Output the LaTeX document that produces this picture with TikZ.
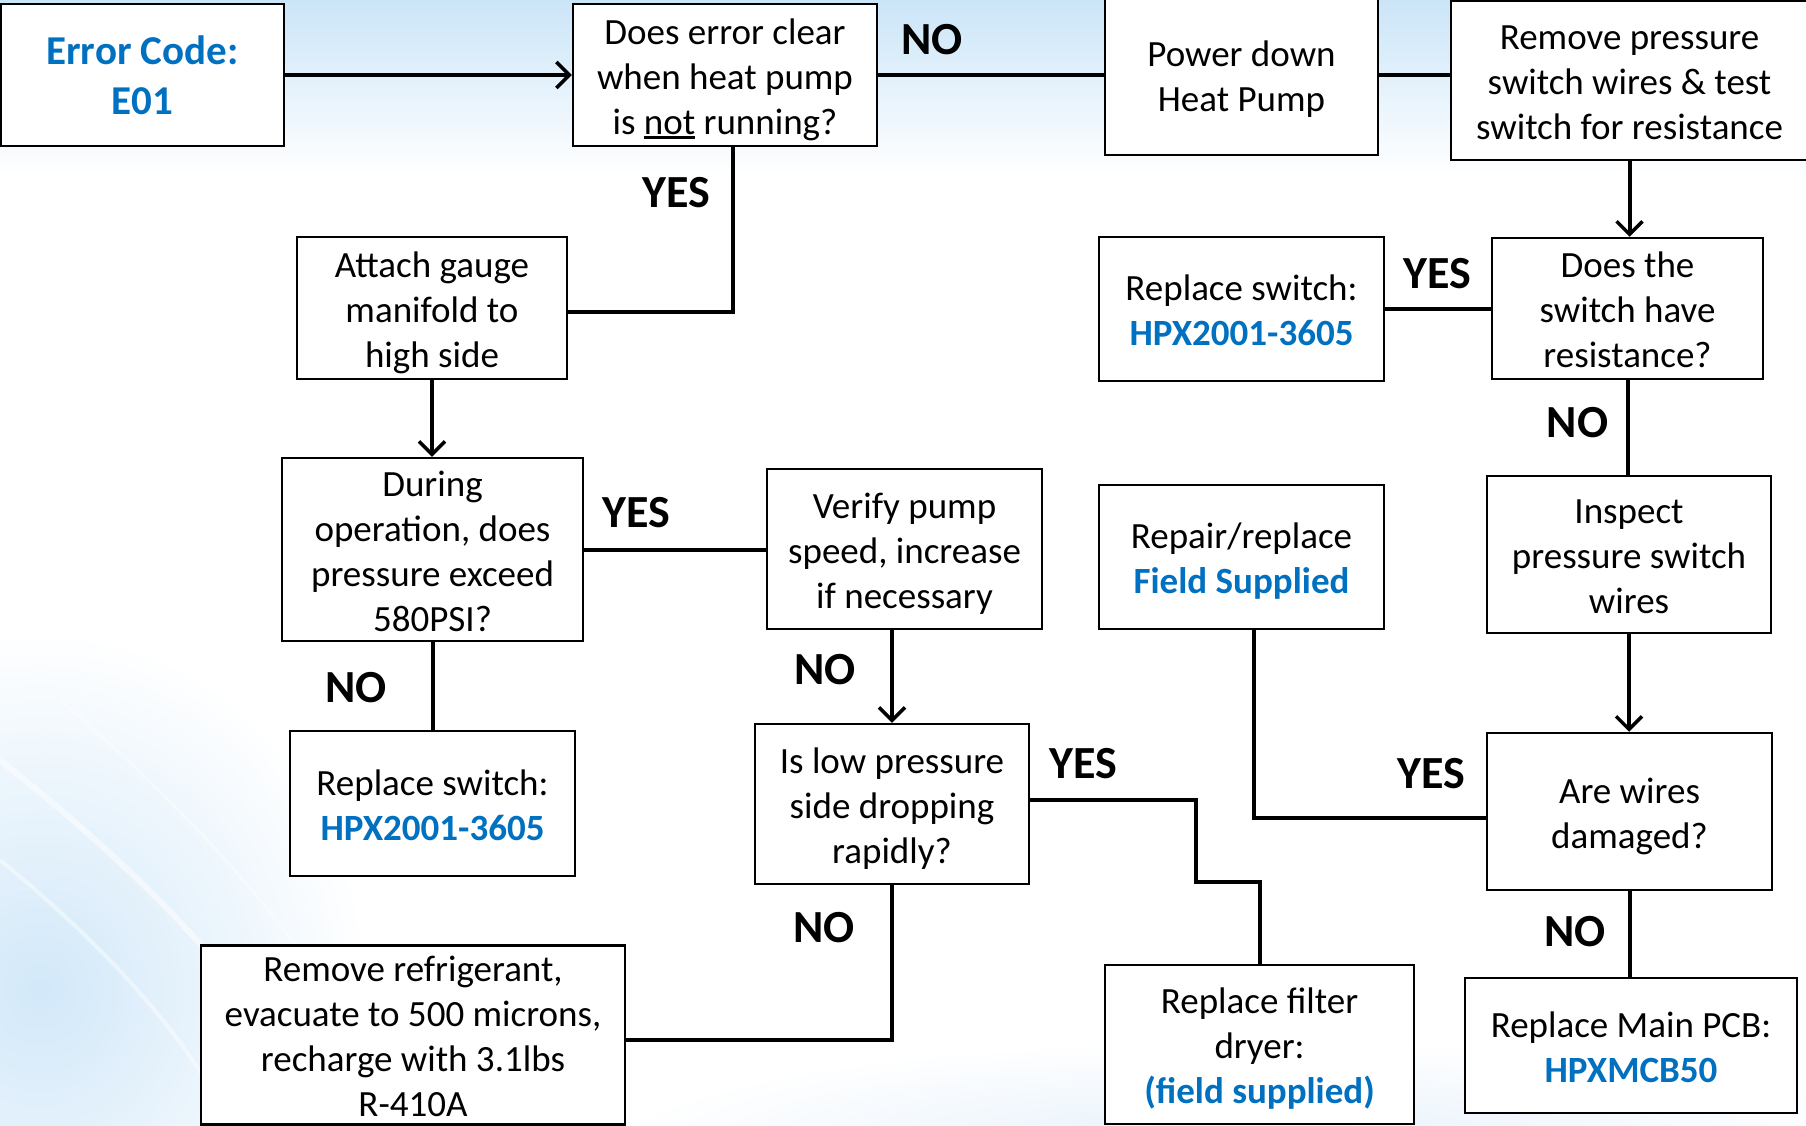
\documentclass[tikz,border=0pt]{standalone}
\usepackage{fontspec}
\setmainfont{Carlito}
\usetikzlibrary{arrows.meta,calc}
\definecolor{hpblue}{RGB}{0,112,192}
\definecolor{bgtop}{RGB}{203,229,248}
\definecolor{swirl}{RGB}{210,232,249}
\definecolor{faint}{RGB}{228,240,251}
\newcommand\regfont{\fontsize{37}{45}\selectfont}
\newcommand\lblfont{\fontsize{46}{50}\selectfont\bfseries}
\newcommand\bluebf[1]{{\bfseries\color{hpblue}#1}}
\newcommand\sx{\rule[-8pt]{0pt}{44pt}}
\newcommand\ulin[1]{\setbox0\hbox{#1}\rlap{\rule[-4.5pt]{\wd0}{2.2pt}}\box0\relax}
\tikzset{
  box/.style={draw, line width=2.5pt, fill=white, inner sep=0pt, align=center, font=\regfont},
  con/.style={line width=4pt},
  arr/.style={line width=4pt, -{Straight Barb[length=13pt,width=26pt,line width=3.5pt]}},
  lbl/.style={inner sep=0pt, font=\lblfont},
}
\begin{document}
\begin{tikzpicture}[x=1pt,y=-1pt]
\useasboundingbox (0,0) rectangle (1806,1125);
\clip (0,0) rectangle (1806,1125);
% background
\fill[white] (0,0) rectangle (1806,1125);
\shade[inner color=swirl, outer color=white] (40,990) ellipse (330 and 360);
\draw[white, line width=6pt, opacity=.5] (0,760) .. controls (150,880) and (260,990) .. (320,1125);
\draw[white, line width=4pt, opacity=.45] (0,860) .. controls (110,950) and (190,1040) .. (230,1125);
\draw[white, line width=3pt, opacity=.4] (60,700) .. controls (200,820) and (330,960) .. (400,1125);
\shade[inner color=faint, outer color=white] (1250,1150) ellipse (650 and 110);
\shade[top color=bgtop, bottom color=white] (0,0) rectangle (1806,175);

% nodes
\node[box, minimum width=283pt, minimum height=142pt, font=\fontsize{41}{50}\selectfont\bfseries\color{hpblue}] (err) at (142.5,75) {Error Code:\\E01};
\node[box, minimum width=304pt, minimum height=142pt] (q1) at (725,75) {\sx Does error clear\\\sx when heat pump\\\sx is \ulin{not} running?};
\node[box, minimum width=273pt, minimum height=160pt] (power) at (1241.5,75) {\sx Power down\\\sx Heat Pump};
\node[box, minimum width=357pt, minimum height=159pt] (remove) at (1629.5,80.5) {\sx Remove pressure\\\sx switch wires \& test\\\sx switch for resistance};
\node[box, minimum width=270pt, minimum height=142pt] (attach) at (432,308) {\sx Attach gauge\\\sx manifold to\\\sx high side};
\node[box, minimum width=285pt, minimum height=144pt] (rs1) at (1241.5,309) {\sx Replace switch:\\\sx\bluebf{HPX2001-3605}};
\node[box, minimum width=271pt, minimum height=141pt] (q2) at (1627.5,308.5) {\sx Does the\\\sx switch have\\\sx resistance?};
\node[box, minimum width=301pt, minimum height=183pt] (during) at (432.5,549.5) {\sx During\\\sx operation, does\\\sx pressure exceed\\\sx 580PSI?};
\node[box, minimum width=275pt, minimum height=160pt] (verify) at (904.5,549) {\sx Verify pump\\\sx speed, increase\\\sx if necessary};
\node[box, minimum width=285pt, minimum height=144pt] (repair) at (1241.5,557) {\sx Repair/replace\\\sx\bluebf{Field Supplied}};
\node[box, minimum width=284pt, minimum height=157pt] (inspect) at (1629,554.5) {\sx Inspect\\\sx pressure switch\\\sx wires};
\node[box, minimum width=285pt, minimum height=145pt] (rs2) at (432.5,803.5) {\sx Replace switch:\\\sx\bluebf{HPX2001-3605}};
\node[box, minimum width=274pt, minimum height=160pt] (islow) at (892,804) {\sx Is low pressure\\\sx side dropping\\\sx rapidly?};
\node[box, minimum width=285pt, minimum height=157pt] (wires) at (1629.5,811.5) {\sx Are wires\\\sx damaged?};
\node[box, minimum width=424pt, minimum height=178pt] (refrig) at (413,1035) {\sx Remove refrigerant,\\\sx evacuate to 500 microns,\\\sx recharge with 3.1lbs\\\sx R-410A};
\node[box, minimum width=309pt, minimum height=159pt] (filter) at (1259.5,1044.5) {\sx Replace filter\\\sx dryer:\\\sx\bluebf{(field supplied)}};
\node[box, minimum width=332pt, minimum height=135pt] (pcb) at (1631,1045.5) {\sx Replace Main PCB:\\\sx\bluebf{HPXMCB50}};

% connectors
\draw[arr] (err.east) -- (err.east -| q1.west);
\draw[con] (q1.east) -- (q1.east -| power.west);
\draw[con] (power.east) -- (power.east -| remove.west);
\draw[arr] (remove.south) -- (remove.south |- q2.north);
\draw[con] (q2.west) -- (q2.west -| rs1.east);
\draw[con] (q2.south) -- (q2.south |- inspect.north);
\draw[arr] (inspect.south) -- (inspect.south |- wires.north);
\draw[con] ([yshift=-6.5pt]wires.west) -| ([xshift=12pt]repair.south);
\draw[con] (wires.south) -- (wires.south |- pcb.north);
\draw[con] ([xshift=7.5pt]q1.south) |- ([yshift=-3.5pt]attach.east);
\draw[arr] (attach.south) -- (attach.south |- during.north);
\draw[con] (during.east) -- (during.east -| verify.west);
\draw[con] (during.south) -- (during.south |- rs2.north);
\draw[arr] (islow.north |- verify.south) -- (islow.north);
\coordinate (bend) at (1196,882);
\draw[con] ([yshift=4pt]islow.east) -| (bend) -| (filter.north);
\draw[con] (islow.south) |- ([yshift=-5pt]refrig.east);

% labels
\node[lbl] (l1) at (932,40) {NO};
\node[lbl] (l2) at (1437,274) {YES};
\node[lbl] (l3) at (1577.5,423) {NO};
\node[lbl] (l4) at (1431,774) {YES};
\node[lbl] (l5) at (1575,932) {NO};
\node[lbl] (l6) at (676.5,193) {YES};
\node[lbl] (l7) at (636.6,513) {YES};
\node[lbl] (l8) at (356,687.5) {NO};
\node[lbl] (l9) at (825,670) {NO};
\node[lbl] (l10) at (1083.5,764) {YES};
\node[lbl] (l11) at (824,928) {NO};
\end{tikzpicture}
\end{document}
